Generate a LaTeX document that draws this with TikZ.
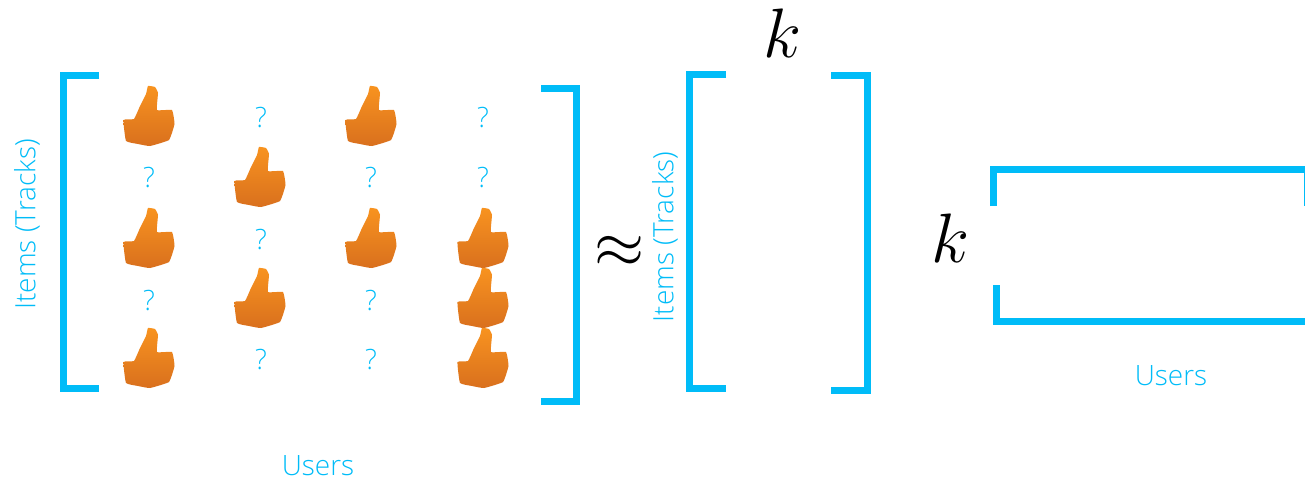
\documentclass[tikz,border=0pt]{standalone}
\usepackage{fix-cm}
\usepackage{amsmath, amssymb}
\usepackage{fontspec}
\setmainfont{Open Sans Light}
\usepackage{xcolor}
\usepackage{tikz}
\usetikzlibrary{positioning}
\definecolor{skyblue}{HTML}{00BCF8}
\definecolor{thumbtop}{HTML}{F8931F}
\definecolor{thumbbottom}{HTML}{D9701E}
\tikzset{
    bracket/.style={draw=skyblue, line width=7pt, line cap=butt, miter limit=10},
    axislabel/.style={text=skyblue, font=\fontsize{28}{30}\selectfont, inner sep=0pt},
    unknown/.style={text=skyblue, font=\fontsize{28}{30}\selectfont, inner sep=0pt},
    bigmath/.style={font=\fontsize{70}{80}\selectfont, inner sep=0pt},
    thumb/.pic={
        \shade[top color=thumbtop, bottom color=thumbbottom]
            plot[smooth cycle, tension=0.2] coordinates {
                (-1,-30) (6,-29) (9,-23) (8,-6) (23,-6) (25.5,8) (20,24) (1,30)
                (-11,28) (-23,25) (-25.5,4) (-15,3) (-9,-10) (-3,-22)};
    }
}
\begin{document}
\begin{tikzpicture}[x=1pt, y=-1pt]
    \useasboundingbox (0,0) rectangle (1305,479);
    \clip (0,0) rectangle (1305,479);

    \draw[bracket] (99,75.5) -- (63.5,75.5) -- (63.5,388) -- (99,388);
    \draw[bracket] (541,88) -- (576.5,88) -- (576.5,401) -- (541,401);
    \draw[bracket] (726,74) -- (689.5,74) -- (689.5,388) -- (726,388);
    \draw[bracket] (831,75.5) -- (867.5,75.5) -- (867.5,390.5) -- (831,390.5);
    \draw[bracket] (993,206) -- (993,169.5) -- (1307.5,169.5) -- (1307.5,206);
    \draw[bracket] (996,285) -- (996,321.5) -- (1310,321.5);

    \foreach \x/\y in {149/116, 149/238, 149/358, 260/177, 260/298,
                       371/116, 371/238, 483/238, 483/298, 483/358}
        \pic at (\x,\y) {thumb};

    \foreach \x/\y [count=\i] in {261/117, 483/117, 149/177, 371/177, 483/177,
                                  261/239, 149/300, 371/300, 261/359, 371/359}
        \node[unknown] (q\i) at (\x,\y) {?};

    \node[axislabel, rotate=90] (items1) at (27,224.5) {Items (Tracks)};
    \node[axislabel, rotate=90] (items2) at (665,237) {Items (Tracks)};
    \node[axislabel] (users1) at (318,466) {Users};
    \node[axislabel] (users2) at (1171,376) {Users};

    \node[bigmath, scale=0.92] (approx) at (620,252) {$\approx$};
    \node[bigmath] (k1) at (782,33) {$k$};
    \node[bigmath] (k2) at (950,238) {$k$};
\end{tikzpicture}
\end{document}
